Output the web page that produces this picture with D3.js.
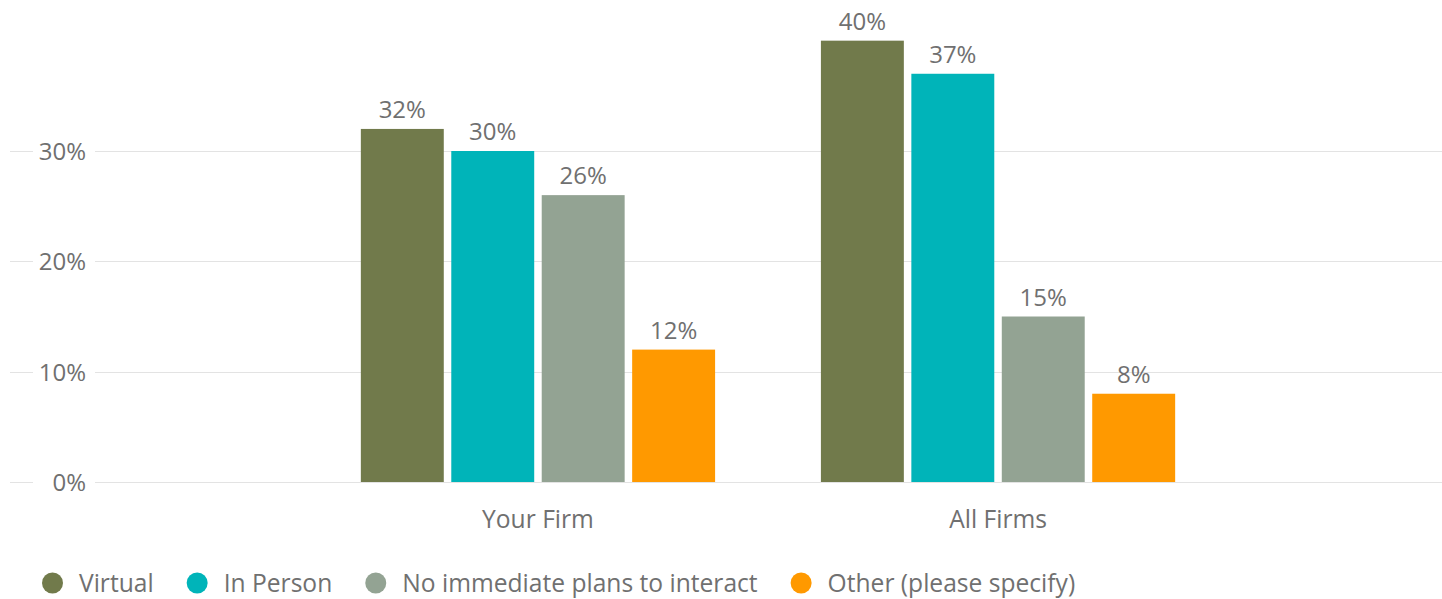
<!DOCTYPE html>
<html>
<head>
<meta charset="utf-8">
<script src="https://cdn.jsdelivr.net/npm/d3@7"></script>
<style>
  html, body { margin: 0; padding: 0; background: #fff; }
  svg { display: block; font-family: "Open Sans", sans-serif; }
</style>
</head>
<body>
<svg id="chart" width="1442" height="599"></svg>
<script>
// Survey responses by group
const categories = ["Your Firm", "All Firms"];
const seriesNames = ["Virtual", "In Person", "No immediate plans to interact", "Other (please specify)"];
const virtual = [32, 40];
const inPerson = [30, 37];
const noPlans = [26, 15];
const other = [12, 8];
const yTicks = [0, 10, 20, 30];
const seriesColors = ["#717a4b", "#00b4b9", "#93a393", "#ff9900"];

const seriesValues = [virtual, inPerson, noPlans, other];

const svg = d3.select("#chart");
const W = 1442, H = 599;
const textColor = "#707070";
const fontSize = 24;
const labelFontSize = 24.6;

const x0 = d3.scaleBand()
  .domain(categories)
  .range([94, W])
  .paddingInner(0.23)
  .paddingOuter(0.58);

const x1 = d3.scaleBand()
  .domain(seriesNames)
  .range([0, x0.bandwidth()])
  .paddingInner(0.083)
  .paddingOuter(0);

const y = d3.scaleLinear().domain([0, 30]).range([482, 151]);

// Grid lines with short lead-in tick and label
const grid = svg.append("g");
yTicks.forEach(t => {
  const yy = Math.round(y(t)) + 0.5;
  grid.append("line").attr("x1", 10).attr("x2", 33).attr("y1", yy).attr("y2", yy)
    .attr("stroke", "#e3e3e3").attr("stroke-width", 1);
  grid.append("line").attr("x1", 95).attr("x2", W).attr("y1", yy).attr("y2", yy)
    .attr("stroke", "#e3e3e3").attr("stroke-width", 1);
  grid.append("text").attr("x", 86).attr("y", yy + 8.5)
    .attr("text-anchor", "end").attr("font-size", fontSize).attr("fill", textColor)
    .text(t + "%");
});

// Bars
const groups = svg.append("g").selectAll("g")
  .data(categories)
  .join("g")
  .attr("transform", d => `translate(${x0(d)},0)`);

groups.each(function(cat, ci) {
  const g = d3.select(this);
  seriesNames.forEach((s, si) => {
    const v = seriesValues[si][ci];
    g.append("rect")
      .attr("x", x1(s))
      .attr("y", y(v))
      .attr("width", x1.bandwidth())
      .attr("height", y(0) - y(v))
      .attr("fill", seriesColors[si]);
    g.append("text")
      .attr("x", x1(s) + x1.bandwidth() / 2)
      .attr("y", y(v) - 11)
      .attr("text-anchor", "middle")
      .attr("font-size", fontSize)
      .attr("fill", textColor)
      .text(v + "%");
  });
});

// Category labels
svg.append("g").selectAll("text")
  .data(categories)
  .join("text")
  .attr("x", d => x0(d) + x0.bandwidth() / 2)
  .attr("y", 528)
  .attr("text-anchor", "middle")
  .attr("font-size", labelFontSize)
  .attr("fill", textColor)
  .text(d => d);

// Legend
const legend = svg.append("g");
let lx = 42;
seriesNames.forEach((s, i) => {
  legend.append("circle").attr("cx", lx + 10.5).attr("cy", 583).attr("r", 10.5)
    .attr("fill", seriesColors[i]);
  const t = legend.append("text").attr("x", lx + 37).attr("y", 592)
    .attr("font-size", labelFontSize).attr("fill", textColor).text(s);
  lx = lx + 37 + t.node().getComputedTextLength() + 33;
});
</script>
</body>
</html>
